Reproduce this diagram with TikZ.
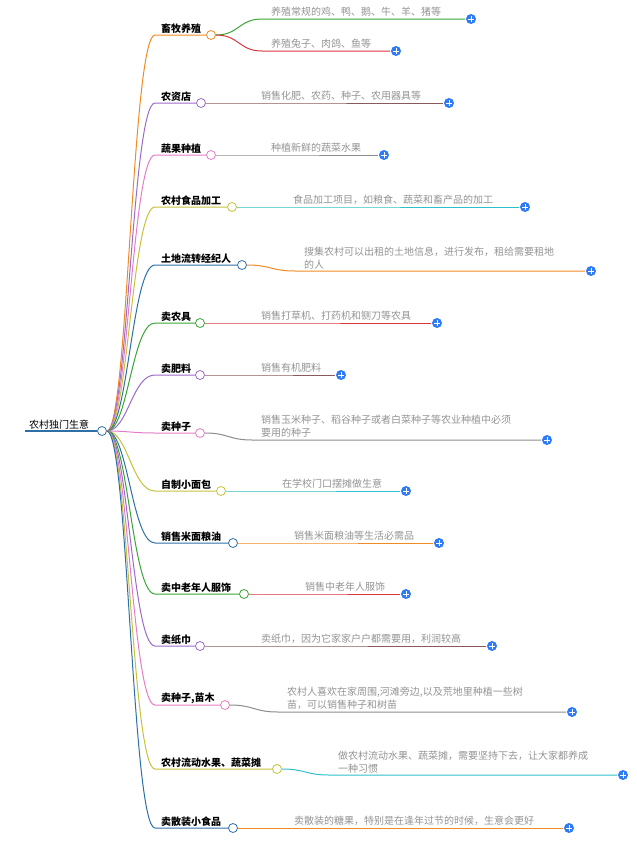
\documentclass[tikz,border=0pt]{standalone}
\usepackage{fontspec}
\usetikzlibrary{calc}
\newfontfamily\cjk{Noto Sans CJK SC}
\begin{document}
\begin{tikzpicture}[x=1pt,y=-1pt,
  lbl/.style={font=\cjk\fontsize{10}{12}\selectfont\bfseries, text=black, anchor=south west, inner sep=1pt},
  ctext/.style={font=\cjk\fontsize{10}{13}\selectfont, text=gray!85, anchor=south west, inner sep=1pt, align=left},
  knob/.style={circle, draw=#1, fill=white, line width=0.8pt, minimum size=9pt, inner sep=0pt},
  plusn/.style={circle, fill=cplus, minimum size=10pt, inner sep=0pt},
  ln/.style={line width=1pt}]
\definecolor{cor}{HTML}{F08A24}\definecolor{cpu}{HTML}{9B6BC9}\definecolor{cpi}{HTML}{E47DC8}
\definecolor{cye}{HTML}{C5C23A}\definecolor{cbl}{HTML}{2F6FA8}\definecolor{cgr}{HTML}{3AA535}
\definecolor{cre}{HTML}{D9363E}\definecolor{cbr}{HTML}{8A5A5A}\definecolor{cgy}{HTML}{8C8C8C}
\definecolor{ccy}{HTML}{2EC0C8}\definecolor{cplus}{HTML}{2F7BF5}
\useasboundingbox (0,0) rectangle (637,846);
\newcommand{\plusat}[2]{\node[plusn] (#1) at (#2) {}; \draw[white, line width=1pt] ([xshift=-2.8pt]#1.center) -- ([xshift=2.8pt]#1.center) ([yshift=-2.8pt]#1.center) -- ([yshift=2.8pt]#1.center);}
% root
\node[lbl, font=\cjk\fontsize{10}{12}\selectfont] (rootl) at (28,431) {农村独门生意};
\coordinate (rs) at (25,431);
\node[knob=cbl] (root) at (102,431) {};
\draw[cbl, line width=2pt] (rs) -- (root.west);
\newcommand{\branch}[5]{%
  \coordinate (#1s) at (155,#2);
  \draw[ln,#4] (root.east) .. controls (128,431) and (132,#2) .. (#1s) -- (#3-4.5,#2);
  \node[knob=#4] (#1) at (#3,#2) {};
  \node[lbl] (#1l) at (160,#2) {#5};}
\branch{b1}{35}{211}{cor}{畜牧养殖}
\branch{b2}{103}{201}{cpu}{农资店}
\branch{b3}{155}{211}{cpi}{蔬果种植}
\branch{b4}{207}{232}{cye}{农村食品加工}
\branch{b5}{265}{242}{cbl}{土地流转经纪人}
\branch{b6}{323}{200}{cgr}{卖农具}
\branch{b7}{375}{200}{cpu}{卖肥料}
\branch{b8}{433}{200}{cpi}{卖种子}
\branch{b9}{491}{221}{cye}{自制小面包}
\branch{b10}{543}{233}{cbl}{销售米面粮油}
\branch{b11}{594}{244}{cgr}{卖中老年人服饰}
\branch{b12}{646}{200}{cpu}{卖纸巾}
\branch{b13}{705}{225}{cpi}{卖种子,苗木}
\branch{b14}{769}{277}{cye}{农村流动水果、蔬菜摊}
\branch{b15}{828}{233}{cbl}{卖散装小食品}
\newcommand{\child}[7]{%
  \coordinate (#2s) at (#4-8,#3);
  \draw[ln,#6] (#1.east) .. controls ($(#1.east)!0.5!(#2s |- #1.east)$) and ($(#2s)!0.5!(#1.east |- #2s)$) .. (#2s) -- (#5-6,#3);
  \plusat{#2p}{#5,#3}
  \node[ctext] (#2t) at (#4,#3-1) {#7};}
\child{b1}{c1a}{19}{270}{471}{cgr}{养殖常规的鸡、鸭、鹅、牛、羊、猪等}
\child{b1}{c1b}{51}{270}{396}{cre}{养殖兔子、肉鸽、鱼等}
\child{b2}{c2}{103}{260}{449}{cbr}{销售化肥、农药、种子、农用器具等}
\child{b3}{c3}{155}{270}{384}{cgy}{种植新鲜的蔬菜水果}
\child{b4}{c4}{207}{292}{525}{ccy}{食品加工项目，如粮食、蔬菜和畜产品的加工}
\child{b5}{c5}{271}{303}{591}{cor}{搜集农村可以出租的土地信息，进行发布，租给需要租地\\的人}
\child{b6}{c6}{323}{260}{437}{cre}{销售打草机、打药机和铡刀等农具}
\child{b7}{c7}{375}{260}{341}{cbr}{销售有机肥料}
\child{b8}{c8}{440}{260}{547}{cgy}{销售玉米种子、稻谷种子或者白菜种子等农业种植中必须\\要用的种子}
\child{b9}{c9}{491}{281}{406}{ccy}{在学校门口摆摊做生意}
\child{b10}{c10}{543}{293}{439}{cor}{销售米面粮油等生活必需品}
\child{b11}{c11}{594}{304}{406}{cre}{销售中老年人服饰}
\child{b12}{c12}{646}{260}{492}{cbr}{卖纸巾，因为它家家户户都需要用，利润较高}
\child{b13}{c13}{712}{286}{572}{cgy}{农村人喜欢在家周围,河滩旁边,以及荒地里种植一些树\\苗，可以销售种子和树苗}
\child{b14}{c14}{775}{337}{623}{ccy}{做农村流动水果、蔬菜摊，需要坚持下去，让大家都养成\\一种习惯}
\child{b15}{c15}{828}{293}{569}{cor}{卖散装的糖果，特别是在逢年过节的时候，生意会更好}
\end{tikzpicture}
\end{document}
